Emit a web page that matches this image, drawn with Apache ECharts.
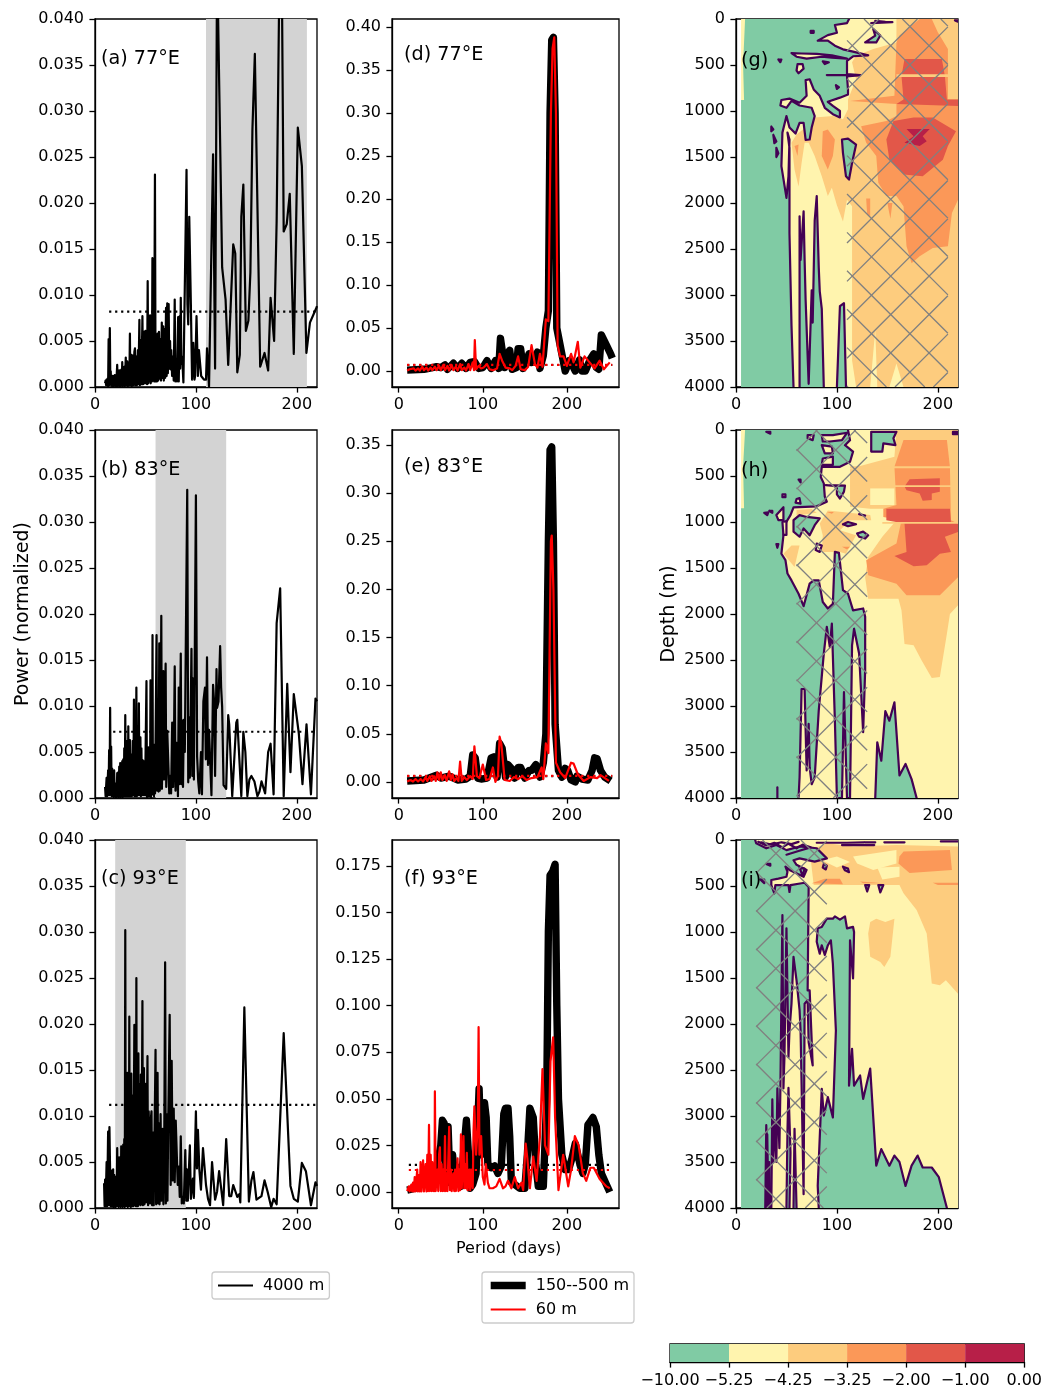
<!DOCTYPE html>
<html><head><meta charset="utf-8">
<script src="https://cdn.jsdelivr.net/npm/echarts@6/dist/echarts.min.js"></script>
<style>html,body{margin:0;padding:0;background:#fff}#c{width:1045px;height:1390px}</style></head>
<body><div id="c"></div>
<script>
// ---------- values ----------
const panelTitles = ['(a) 77°E','(b) 83°E','(c) 93°E','(d) 77°E','(e) 83°E','(f) 93°E','(g)','(h)','(i)'];
const powerTicks = [0,.005,.01,.015,.02,.025,.03,.035,.04];
const periodTicks = [0,100,200];
const depthTicks = [0,500,1000,1500,2000,2500,3000,3500,4000];
const dTicks = [0,.05,.1,.15,.2,.25,.3,.35,.4];
const eTicks = [0,.05,.1,.15,.2,.25,.3,.35];
const fTicks = [0,.025,.05,.075,.1,.125,.15,.175];
const colorbarLabels = ['−10.00','−5.25','−4.25','−3.25','−2.00','−1.00','0.00'];
const shadedA = [110,210], shadedB = [60,130], shadedC = [20,90];
const thresholdA = [[14,.0082],[220,.0082]], thresholdB = [[18,.0072],[220,.0072]], thresholdC = [[14,.0112],[220,.0112]];
const thresholdDdeep = [[10,.007],[254,.007]], thresholdDsurf = [[10,.0072],[254,.0072]];
const thresholdEdeep = [[10,.006],[254,.006]], thresholdEsurf = [[10,.0062],[254,.0062]];
const thresholdFdeep = [[12,.0146],[251,.0146]], thresholdFsurf = [[12,.0118],[251,.0118]];

const power4000A = [[10,.0004],[10.5,.0007],[11,.0002],[11.5,.0008],[12,.0002],[12.5,.0009],[13,.0001],[13.5,.0052],[14,.0002],[14.7,.0064],[15.2,.0005],[15.6,.0017],[16,.0002],[16.6,.001],[17,.0001],[17.6,.0012],[18,.0001],[18.6,.0009],[19,.0002],[19.6,.0013],[20,.0001],[20.6,.0011],[21,.0001],[22,.0024],[22.5,.0001],[23,.0014],[23.5,.0002],[24,.0018],[24.5,.0001],[25,.0016],[25.5,.0001],[26,.0019],[26.5,.0002],[27,.0027],[27.5,.0001],[28,.002],[28.5,.0002],[29,.0022],[29.5,.0001],[30.5,.0032],[31,.0002],[32,.0028],[32.5,.0001],[33.5,.0026],[34,.0002],[34.6,.0058],[35,.0002],[36,.0035],[36.5,.0001],[37.4,.0034],[38,.0002],[39,.0038],[39.6,.0042],[40,.0002],[41,.0033],[41.5,.0002],[42.5,.004],[43,.0003],[44,.0073],[44.5,.0002],[45.5,.0051],[46,.0003],[47,.0077],[47.6,.0003],[48.5,.006],[49,.0004],[50,.0061],[50.6,.0004],[51.2,.003],[51.6,.0003],[52.2,.0115],[52.8,.0004],[53.4,.005],[54,.0006],[54.6,.0078],[55.2,.0004],[56,.006],[56.4,.0006],[56.9,.014],[57.4,.001],[58,.0137],[58.6,.0006],[59.4,.0231],[60,.0006],[60.8,.0041],[61.4,.0006],[62,.0058],[62.6,.0007],[63.4,.006],[64,.0009],[64.8,.0052],[65.4,.0007],[66.2,.007],[66.8,.001],[67.6,.0066],[68.2,.0007],[69,.0063],[69.6,.001],[70.4,.0086],[71,.0012],[71.6,.0091],[72.2,.0015],[73,.009],[73.6,.002],[74.4,.005],[75,.0019],[75.6,.004],[76.4,.0012],[77.2,.0033],[78,.0007],[79,.0095],[79.6,.0006],[80.6,.0028],[81.2,.0006],[82.4,.0076],[83,.0006],[84,.0077],[84.4,.002],[85,.0097],[85.6,.0025],[86.4,.0033],[87.6,.0005],[90.7,.0236],[91.6,.009],[92.4,.0068],[93.4,.0185],[94.2,.0185],[95,.009],[96.2,.0008],[97.4,.0048],[98.6,.0008],[99.2,.0012],[100.6,.0077],[102,.0012],[103,.004],[104,.004],[105.2,.0012],[106.6,.0012],[108,.0008],[110,.0008],[111,.0042],[113,0],[117,.0253],[119,.002],[121,.047],[122,.047],[126,.013],[129.4,.0095],[132,.0024],[137,.0155],[139,.0145],[141,.0016],[143.5,.0035],[145,.0185],[147,.022],[149.5,.0061],[152,.0072],[154,.0125],[156,.028],[158.4,.0362],[163.7,.0022],[168,.0037],[171.6,.0018],[174,.0097],[177.5,.005],[180,.018],[183,.047],[185,.047],[187,.0169],[190,.0177],[193,.021],[197,.0036],[201,.0282],[205,.024],[209.5,.0037],[213,.007],[219,.0085],[220,.0088]];

const power4000B = [[10,.0012],[10.5,.0002],[11.5,.0022],[12,.0002],[13,.003],[13.4,.0003],[14,.0052],[14.4,.0003],[15,.0098],[15.5,.0005],[16,.0056],[16.5,.0002],[17,.0032],[17.5,.0003],[18,.0024],[18.5,.0001],[19,.003],[19.5,.0002],[20,.0016],[20.5,.0001],[21,.0015],[21.5,.0001],[22,.0027],[22.5,.0002],[23,.0028],[23.5,.0001],[24,.0034],[24.5,.0002],[25,.0038],[25.5,.0001],[26,.0037],[26.5,.0002],[27,.004],[27.5,.0001],[28,.0042],[28.5,.0003],[29,.0054],[29.5,.0002],[30,.009],[30.5,.0002],[31,.0055],[31.5,.0002],[32,.0062],[32.5,.0002],[33,.0078],[33.5,.0002],[34.6,.0063],[35,.0002],[36,.0047],[36.5,.0002],[37.4,.0062],[38,.0003],[38.6,.0107],[39.2,.0002],[40,.0085],[40.4,.0002],[41,.012],[41.5,.0002],[42.4,.0074],[43,.0003],[43.5,.0103],[44,.0003],[45,.0066],[45.5,.0002],[46,.0054],[46.6,.0003],[47.4,.0041],[48,.0003],[49,.004],[49.6,.0003],[51,.0127],[51.5,.0001],[52.2,.0045],[52.6,.0002],[53,.0055],[53.4,.0002],[54,.0038],[54.5,.0002],[55,.0128],[55.5,.0001],[56.2,.0055],[56.6,.0004],[57,.0177],[57.4,.0004],[58,.0055],[58.5,.0002],[59,.0058],[59.5,.0005],[61,.0177],[61.6,.0008],[62.4,.0105],[63,.0007],[63.7,.0168],[64.2,.0008],[65,.0055],[65.7,.0198],[66.3,.001],[67,.0062],[67.7,.0138],[68.4,.002],[69,.009],[70,.0146],[70.6,.0012],[71.6,.0073],[72.6,.0073],[73.6,.0005],[74.6,.0024],[75.4,.0005],[76.5,.0082],[77.4,.0012],[78,.0038],[79,.0143],[79.8,.0008],[81,.006],[81.6,.0055],[82.2,.0002],[83,.012],[83.6,.0015],[85,.0157],[85.6,.0015],[86.4,.0084],[87.2,.0012],[88,.0085],[89,.005],[90,.005],[91.4,.0335],[92.4,.0017],[93,.0088],[94,.0022],[95.6,.0162],[96.4,.0024],[97,.013],[98,.002],[100,.0329],[101.2,.0045],[102.3,.0018],[103.4,.0005],[105,.005],[106,.0004],[107.4,.0105],[109,.012],[109.8,.0042],[111,.0153],[112,.0036],[113,.0074],[114,.0072],[115.4,.0003],[117,.0123],[118,.0105],[119,.0024],[120.4,.014],[121,.0098],[122.4,.0105],[124,.0165],[125,.012],[126,.0099],[127.4,.0014],[128.4,.0013],[130,.001],[132,.009],[133,.008],[136,.0002],[140,.0082],[141,.0085],[145,.0002],[147,.0072],[149,.005],[151,.0002],[153,.002],[155,.0024],[158,.0018],[161,.0002],[163,.0007],[165,.0018],[168.6,.0005],[171.6,.005],[174,.0059],[177,.0004],[180,.019],[183.5,.0228],[187,.0002],[190.5,.0124],[193.7,.0028],[197,.0113],[202,.007],[205.6,.0015],[209.6,.008],[214,.0004],[218.5,.0108],[220,.0105]];

const power4000C = [[9,.0027],[9.5,.0002],[10,.0031],[10.5,.0002],[11.5,.005],[12,.0002],[13,.0083],[13.5,.0003],[14.3,.0088],[15,.009],[15.5,.0002],[16,.0041],[16.5,.0002],[17,.003],[17.4,.0002],[18,.0042],[18.5,.0001],[19,.0036],[19.5,.0002],[20,.0034],[20.5,.0001],[21,.0033],[21.5,.0002],[22,.0065],[22.5,.0002],[23,.0052],[23.5,.0001],[24,.0055],[24.5,.0002],[25,.0048],[25.5,.0001],[26,.0067],[26.5,.0002],[27,.006],[27.5,.0001],[28,.0069],[28.5,.0002],[29,.0075],[29.5,.0001],[30,.0302],[30.5,.0003],[31,.0125],[31.5,.0002],[32,.0147],[32.5,.0001],[33,.0135],[33.5,.0002],[34,.0208],[34.5,.0002],[35,.0128],[35.5,.0001],[36,.0146],[36.5,.0002],[37.4,.0122],[38,.0002],[39,.0199],[39.5,.0003],[40,.0155],[40.5,.0002],[41,.025],[41.5,.0002],[42,.014],[42.5,.0002],[43,.0168],[43.5,.0004],[44.4,.0135],[45,.0003],[45.5,.0145],[46,.0004],[47,.0225],[47.5,.0003],[48.5,.0152],[49,.0004],[50,.0135],[50.5,.0006],[52,.0165],[52.6,.0003],[53.2,.0105],[54,.0107],[54.6,.0005],[55.2,.0095],[56,.0105],[56.6,.0003],[57.6,.0082],[58.2,.0003],[60,.0172],[60.6,.0004],[61.2,.0105],[62,.0147],[62.6,.0005],[63.4,.0092],[64,.0004],[65,.0102],[65.8,.0008],[66.4,.0062],[67,.0086],[67.8,.0004],[68.6,.0062],[69.5,.0267],[70.2,.0005],[71,.0102],[71.8,.0008],[72.6,.0095],[74,.021],[75,.0025],[76,.016],[77,.003],[78,.0108],[79,.0028],[80,.0095],[81,.0095],[82,.0025],[83,.0045],[84,.0012],[85,.0078],[86,.0005],[87,.0012],[88,.0005],[89.5,.0063],[90.4,.0008],[91,.0042],[92,.0008],[93,.004],[94,.0068],[95,.001],[96,.0022],[97,.0032],[98,.0011],[100,.0105],[101,.0043],[102,.0085],[103.4,.0042],[105,.002],[107,.0065],[108.6,.0065],[110,.0025],[112,.001],[114,.0003],[116,.005],[119,.0009],[121,.0018],[123,.004],[127,.0003],[130,.0075],[133,.0013],[135,.0013],[137,.0025],[141,.0012],[143,.0015],[144,.0006],[148,.0218],[152.5,.0007],[155,.003],[157,.0039],[160,.0009],[165,.0013],[168,.003],[171,.0018],[174.6,.0001],[177,.001],[180,.0004],[187,.019],[193.7,.0024],[197,.001],[201,.0007],[205,.0049],[209,.004],[214,.0003],[218.5,.0028],[220,.0024]];

const powerDeepD = [[10,.001],[30,.002],[40,.004],[45,.005],[50,.004],[55,.007],[58,.002],[65,.009],[70,.003],[75,.009],[80,.003],[85,.01],[90,.011],[95,.003],[100,.004],[105,.012],[110,.003],[115,.012],[119,.003],[121,.038],[123,.038],[126,.004],[130,.021],[132,.024],[135,.002],[140,.004],[142,.026],[145,.026],[148,.003],[152,.012],[155,.02],[158,.01],[162,.015],[165,.022],[168,.003],[172,.018],[175,.05],[178,.07],[180,.3],[182,.385],[184,.388],[186,.3],[188,.05],[192,.03],[195,.015],[198,0],[200,.002],[203,.012],[206,.008],[210,0],[215,.013],[218,0],[222,0],[228,.014],[232,.02],[235,.004],[238,.002],[241,.042],[243,.042],[247,.03],[252,.02],[254,.015]];
const powerSurfD = [[10,.0005],[13,.002],[15,.0003],[18,.003],[20,.0005],[23,.003],[25,.0005],[28,.005],[30,.001],[33,.004],[35,.0005],[38,.004],[40,.001],[43,.005],[45,.001],[48,.006],[50,.001],[53,.007],[55,.001],[58,.006],[60,.0005],[63,.007],[65,.001],[68,.005],[70,.0005],[73,.008],[75,.001],[78,.004],[80,.0005],[83,.008],[85,.001],[88,.01],[89.5,.001],[90.5,.036],[92,.002],[95,.006],[98,.003],[101,.004],[105,.008],[108,.002],[112,.001],[117,.003],[120,.02],[123,.012],[127,.004],[132,.003],[135,.001],[139,.006],[142,.017],[145,.002],[150,.001],[154,.005],[158,.03],[162,.008],[165,.004],[168,.02],[171,.005],[175,.06],[178,.058],[181,.3],[183,.375],[185,.388],[187,.3],[189,.03],[192,.017],[196,.017],[200,.006],[205,.02],[208,.01],[213,.034],[216,.004],[221,.017],[227,.01],[233,.003],[239,.012],[244,.002],[251,.01]];

const powerDeepE = [[10,.001],[30,.002],[45,.007],[50,.004],[60,.006],[70,.002],[80,.003],[85,.006],[88,.028],[91,.025],[94,.004],[98,.003],[105,.004],[110,.025],[113,.026],[117,.005],[120,.04],[123,.035],[127,.005],[130,.018],[134,.014],[138,.004],[142,.015],[145,.015],[150,.004],[155,.012],[158,.012],[163,.018],[165,.018],[168,.005],[172,.02],[175,.05],[178,.25],[180,.345],[182,.348],[184,.25],[186,.06],[190,.012],[194,.005],[198,.014],[201,.012],[205,.002],[210,0],[212,.006],[218,.003],[225,.002],[230,.012],[233,.025],[236,.024],[240,.012],[245,.005],[252,.001]];
const powerSurfE = [[10,.0005],[14,.002],[17,.0004],[20,.003],[23,.0005],[26,.003],[29,.0005],[32,.005],[34,.001],[37,.006],[39,.001],[42,.006],[44,.001],[46,.01],[48,.002],[50,.01],[52,.002],[55,.007],[57,.001],[60,.011],[62,.002],[64,.008],[66,.001],[69,.004],[71,.001],[73,.021],[75,.001],[78,.005],[81,.002],[85,.006],[88,.003],[90,.037],[93,.006],[96,.004],[98,.002],[100,.018],[104,.002],[108,.003],[112,.015],[115,0],[118,.006],[120,.047],[122,.04],[126,.002],[132,.001],[137,.005],[142,.003],[147,.006],[152,.002],[158,.004],[165,.005],[170,.015],[172,.003],[175,.04],[178,.03],[181,.25],[182,.256],[184,.2],[187,.02],[192,.01],[198,.004],[205,.02],[208,.019],[213,.008],[220,.001],[228,.005],[236,.004],[240,.007],[250,.001]];

const powerDeepF = [[10,.001],[20,.002],[30,.005],[35,.01],[40,.012],[45,.013],[48,.02],[50,.025],[52,.0385],[54,.037],[56,.01],[58.7,.035],[61,.005],[64,.02],[67,.006],[70,.012],[74,.003],[77,.02],[80.5,.0385],[83,.02],[85,.002],[88,.004],[92,.01],[95.6,.0555],[98,.02],[102,.048],[104,.04],[106,.015],[110,.013],[114,.014],[118,.01],[122,.014],[125,.042],[127,.045],[130,.045],[132,.03],[134,.005],[138,.004],[144,.002],[150,.002],[153,.02],[156,.045],[160,.04],[163,.015],[166,.003],[172,.003],[176,.05],[178,.14],[180,.17],[183,.172],[186,.176],[188,.1],[190,.05],[194,.02],[198,.012],[202,.012],[206,.018],[210,.026],[212,.026],[216,.014],[219,.01],[222,.015],[225,.036],[228,.038],[231,.04],[235,.035],[238,.02],[241,.01],[246,.005],[251,0]];
const powerSurfF = [[10,.0005],[12,.003],[13,.0003],[15,.004],[16,.0003],[17,.005],[18,.0003],[19,.008],[20,.0003],[22,.012],[22.8,.0003],[24,.009],[25,.0003],[26,.016],[27,.0003],[29,.017],[30,.0003],[32,.015],[33,.0003],[34,.02],[35,.0005],[36,.036],[37,.0005],[38,.02],[39,.0005],[40,.016],[41,.0005],[42,.012],[42.6,.0005],[43,.054],[44,.0005],[45,.01],[46,.012],[47,.0005],[48,.02],[49,.024],[50,.0005],[51,.015],[52,.0005],[53,.012],[54,.0005],[55,.03],[56,.0005],[57,.01],[58,.0005],[60,.035],[61,.001],[62,.012],[63,.0005],[65,.01],[66,.0005],[67,.012],[68,.0005],[70,.018],[71,.0005],[72,.012],[73,.001],[74,.031],[75,.002],[77,.03],[78,.002],[79,.015],[80,.002],[81,.021],[82,.001],[84,.012],[85,.001],[86,.012],[88,.002],[89,.033],[90,.046],[92,.02],[94,.035],[95,.0885],[96,.02],[98,.03],[100,.008],[102,.004],[103.6,.015],[106,.005],[108,.002],[112,.002],[116,.003],[120,.007],[124,.002],[127,.003],[130,.006],[134,.002],[138,.008],[142,.002],[146,.005],[148,.001],[151,.026],[153,.018],[156,.002],[160,.019],[164,.006],[168,.03],[171,.066],[174,.025],[178,.02],[180.5,.07],[183.7,.083],[186,.04],[190,.001],[195.6,.02],[197.6,.021],[201.6,.003],[205,.012],[209.5,.03],[214,.025],[219,.01],[223,.006],[228,.013],[232,.013],[239,.007],[247,.003],[251,.002]];

// filled levels, panel (g)
const gBase = [[5,0],[220,0],[220,4000],[5,4000]];
const gLight = [[159,0],[220,0],[220,4000],[217,4000],[166,4000],[159,3745],[152,4000],[140,4000],[138,3380],[133,4000],[119,4000],[115,3710],[115,2035],[110,1965],[106,2200],[100,2025],[95,1835],[91,1925],[85,1710],[78,1490],[72,1345],[68,1345],[65,1565],[62,1820],[58,1635],[55,1345],[60,1255],[73,1145],[78,1070],[96,1055],[106,1090],[111,980],[111,875],[119,655],[115,470],[119,400],[136,325],[159,255]];
const gOrange = [[182,0],[194,0],[200,145],[210,325],[210,875],[220,875],[220,1965],[214,2110],[210,2470],[195,2490],[182,2580],[174,2655],[169,2470],[166,2035],[159,1925],[149,1925],[141,1780],[139,1490],[129,1345],[124,1165],[149,1110],[159,1055],[159,925],[113,890],[157,835],[159,255],[162,180]];
const gOrangeA = [[86,1220],[91,1200],[98,1310],[96,1490],[91,1635],[85,1490]];
const gOrangeB = [[129,1950],[133,1950],[133,2145],[130,2125]];
const gOrangeC = [[150,2000],[155,2000],[153,2170]];
const gOrangeD = [[58,1380],[62,1365],[61,1490]];
const gRed1 = [[167,435],[204,435],[207,620],[209,875],[220,875],[220,945],[159,925],[166,875],[164,620]];
const gRed2 = [[156,1110],[176,1070],[195,1070],[218,1220],[210,1380],[205,1530],[185,1710],[166,1690],[152,1530],[149,1310]];
const gCrimson = [[169,1195],[192,1195],[185,1275],[189,1330],[182,1380],[167,1345],[176,1275]];
const gStreak = [[159,600],[220,600],[220,630],[159,630]];
// contours, panel (g)
const gMain = [[112,0],[110,45],[98,65],[100,150],[91,175],[81,235],[91,235],[98,290],[106,330],[116,355],[131,395],[116,405],[110,455],[110,600],[123,610],[110,625],[111,765],[111,820],[103,855],[91,900],[96,945],[103,1000],[103,1070],[96,1035],[88,965],[83,835],[77,765],[73,655],[69,665],[70,835],[63,910],[53,865],[45,880],[44,940],[50,965],[55,890],[63,940],[75,965],[78,1055],[75,1180],[73,1310],[69,1315],[67,1130],[63,1130],[59,1245],[53,1180],[50,1055],[46,1235],[45,1600],[50,1945],[52,1710],[53,1310],[51,1235],[53,1400],[53,2330],[55,3330],[57,4000]];
const gMainClose = [[5,4000],[5,880],[8,880],[7,500],[9,0]];
const gFinger1 = [[63,4000],[63,2145],[64,2620],[67,2090],[68,2620],[69,3055],[72,3965],[75,2950],[76,3300],[78,2190],[80,1925],[82,2700],[83,2960],[85,3150],[87,4000]];
const gFinger2 = [[100,4000],[103,3120],[107,3090],[109,4000]];
const gIsland1 = [[105,1310],[111,1300],[119,1365],[115,1565],[112,1745],[109,1710],[106,1455],[105,1310]];
const gIsland2 = [[128,255],[138,180],[136,110],[143,180],[139,255],[128,255]];
const gPocket1 = [[61,490],[66,490],[67,540],[62,590],[60,560],[61,490]];
const gPocket2 = [[55,370],[60,410],[70,430],[85,410],[95,420],[110,430],[95,395],[80,380],[65,375],[55,370]];
const gTick1 = [[90,610],[123,610]];
const gTick2 = [[134,45],[155,35],[148,30],[138,20],[140,40],[134,45]];
const gDot1 = [[74,130],[77,130],[77,150],[74,150],[74,130]];
const gDot2 = [[35,1170],[37,1200],[35,1220],[35,1170]];
const gDot3 = [[37,1260],[40,1330],[38,1350],[37,1260]];
const gDot4 = [[40,1400],[42,1460],[40,1500],[40,1400]];
const gDot5 = [[99,720],[102,740],[100,760],[99,720]];
const gDot6 = [[217,15],[220,15],[220,30],[217,15]];
const gDot7 = [[42,440],[45,440],[44,470],[42,440]];
const gDot8 = [[86,460],[92,470],[88,490],[86,460]];
const gHatchBand = [110,210];

// filled levels, panel (h)
const hBase = [[5,0],[220,0],[220,4000],[5,4000]];
const hLight1 = [[159,0],[220,0],[220,1905],[212,2000],[209,2215],[202,2685],[194,2695],[184,2505],[176,2340],[167,2325],[164,1960],[161,1835],[131,1835],[128,1600],[131,1380],[145,1160],[159,980],[157,855],[133,855],[113,835],[113,420],[157,290]];
const hYellowPocket = [[133,635],[157,635],[157,815],[133,815]];
const hLight2 = [[83,1015],[91,875],[133,925],[134,980],[113,980],[103,1090],[119,1145],[109,1345],[103,1325],[85,1325],[86,1145]];
const hLight3 = [[47,1345],[55,1255],[63,1255],[58,1490]];
const hLight4 = [[60,870],[75,860],[80,900],[60,930]];
const hOrange = [[166,110],[209,110],[212,400],[213,980],[220,1015],[220,1600],[202,1795],[169,1795],[159,1670],[131,1580],[129,1415],[159,1235],[164,980],[146,945],[146,855],[159,815],[157,400]];
const hOrangeSmall1 = [[90,890],[97,890],[95,910]];
const hOrangeSmall2 = [[105,1270],[113,1270],[110,1300]];
const hRed1 = [[172,535],[202,525],[202,670],[194,690],[194,760],[185,770],[182,690],[169,655],[167,615]];
const hRed2 = [[149,855],[212,855],[213,1000],[220,1015],[220,1110],[207,1160],[213,1325],[202,1345],[189,1470],[176,1480],[157,1370],[169,1325],[167,1015],[149,980]];
const hStreak1 = [[113,395],[220,395],[220,415],[113,415]];
const hStreak2 = [[113,600],[220,600],[220,620],[113,620]];
const hStreak3 = [[145,1000],[220,1000],[220,1020],[145,1020]];
// contours, panel (h)
const hMain = [[111,0],[113,110],[108,165],[116,235],[113,345],[103,400],[85,400],[84,510],[87,580],[88,725],[90,780],[80,830],[57,840],[54,925],[49,1015],[47,1145],[45,1345],[49,1415],[51,1560],[55,1635],[62,1780],[67,1915],[73,1670],[77,1635],[82,1635],[86,1870],[91,1940],[96,1890],[98,1325],[102,1335],[106,1740],[111,1780],[116,1960],[126,1940],[128,2030],[128,2610],[126,3285],[122,2430],[117,2160],[115,2340],[113,4000],[110,4000],[107,2850],[105,4000],[100,4000],[98,3160],[95,2105],[93,2360],[90,2140],[87,2430],[82,3050],[78,3775],[75,3850],[73,3665],[72,3195],[70,3700],[68,2815],[65,2815],[63,3775],[62,4000]];
const hMainClose = [[5,4000],[5,850],[8,850],[7,400],[9,0]];
const hPocket1 = [[85,55],[96,55],[110,30],[105,110],[93,125],[86,125],[85,55]];
const hPocket2 = [[85,165],[95,180],[96,255],[88,255],[85,165]];
const hPocket3 = [[86,310],[96,290],[96,380],[85,380],[86,310]];
const hIslandTop = [[134,20],[159,20],[156,90],[158,165],[146,145],[145,235],[134,235],[134,20]];
const hIslandLow = [[138,4000],[140,3395],[144,3595],[148,3055],[152,3160],[157,2960],[162,3755],[168,3630],[174,3795],[179,4000]];
const hIslandMid = [[57,980],[63,925],[70,945],[83,960],[78,1035],[73,1145],[67,1070],[63,1160],[57,1105],[57,980]];
const hLoop1 = [[71,55],[77,55],[76,110],[71,90],[71,55]];
const hLoop2 = [[60,750],[63,740],[64,800],[59,790],[60,750]];
const hLoop3 = [[46,700],[49,700],[49,730],[46,730],[46,700]];
const hLoop4 = [[40,925],[47,840],[47,980],[42,980],[40,925]];
const hLoop5 = [[46,1000],[50,990],[50,1140],[47,1140],[46,1000]];
const hLoop6 = [[80,1235],[85,1255],[83,1325],[79,1305],[80,1235]];
const hLoop7 = [[89,600],[108,605],[107,670],[103,745],[100,700],[100,610],[89,600]];
const hLoop8 = [[106,1025],[111,1000],[119,1025],[111,1045],[106,1025]];
const hLoop9 = [[120,1125],[126,1105],[131,1145],[128,1180],[122,1160],[120,1125]];
const hTick1 = [[122,915],[128,930]];
const hTick2 = [[41,4000],[41,3885]];
const hDot1 = [[215,20],[220,20],[220,45],[215,45],[215,20]];
const hDot2 = [[30,20],[34,20],[34,40],[30,20]];
const hDot3 = [[62,540],[64,540],[64,570],[62,540]];
const hDot4 = [[33,880],[36,880],[36,900],[33,880]];
const hDot5 = [[28,900],[32,895],[31,925],[28,900]];
const hDot6 = [[40,1240],[42,1240],[41,1280],[40,1240]];
const hHatchBand = [60,130];

// filled levels, panel (i)
const iBase = [[5,0],[220,0],[220,4000],[5,4000]];
const iLight1 = [[73,110],[90,35],[116,70],[159,55],[220,70],[220,1670],[208,1525],[202,1580],[194,1560],[189,1015],[179,760],[166,580],[162,490],[77,490]];
const iLight2 = [[133,890],[139,855],[148,890],[157,855],[153,1270],[147,1380],[143,1325],[133,1270],[131,1015]];
const iYellow1 = [[116,180],[159,110],[159,255],[136,325],[120,255]];
const iYellow2 = [[140,300],[162,290],[162,400],[145,430]];
const iYellow3 = [[85,220],[100,180],[113,240],[100,300]];
const iOrange1 = [[166,125],[212,110],[214,325],[172,360],[161,255],[162,180]];
const iOrange2 = [[75,470],[88,420],[103,420],[106,480]];
const iOrange3 = [[123,450],[146,470],[126,470]];
const iOrange4 = [[195,465],[220,465],[220,490],[200,490]];
// contours, panel (i)
const iLeft = [[19,0],[20,35],[30,90],[40,55],[50,110],[63,70],[80,90],[90,200],[78,235],[63,200],[57,220],[60,270],[70,325],[67,400],[53,325],[49,290],[51,345],[50,400],[42,420],[35,435],[35,490],[38,580],[39,490],[52,490],[53,565],[54,490],[65,470],[68,465],[72,510],[71,1635],[73,1635],[76,2450],[72,2200],[71,1740],[68,1780],[67,3850],[64,2070],[63,1850],[60,1525],[57,1270],[55,1780],[53,2070],[52,2360],[50,960],[48,2360],[47,2700],[46,815],[44,2700],[43,3350],[41,2700],[40,3500],[38,3045],[37,3500],[36,2820],[35,4000],[32,4000],[30,3100],[29,4000]];
const iLeftClose = [[5,4000],[5,0]];
const iGreenBig = [[82,4000],[81,3760],[85,2705],[87,2995],[91,2795],[96,3015],[99,2070],[96,1345],[94,1090],[91,1145],[88,1250],[85,1145],[83,1235],[80,1105],[81,960],[85,945],[90,855],[96,855],[98,830],[103,865],[108,830],[110,960],[116,945],[117,1000],[116,1505],[113,1090],[112,2670],[115,2270],[117,2670],[123,2560],[126,2815],[133,2485],[139,3540],[144,3360],[152,3540],[157,3430],[162,3500],[168,3760],[174,3540],[180,3430],[185,3560],[194,3560],[201,3665],[209,4000]];
const iFinger1 = [[50,4000],[51,3170],[52,2695],[54,3400],[53,4000]];
const iFinger2 = [[57,4000],[58,3140],[60,4000]];
const iTop1 = [[80,30],[110,30],[127,25]];
const iTop2 = [[105,55],[137,55]];
const iTop3 = [[147,25],[167,25]];
const iTop4 = [[203,15],[220,15]];
const iTop5 = [[128,25],[138,25]];
const iTop6 = [[25,25],[35,50],[45,25],[55,45],[62,20]];
const iTop7 = [[22,20],[30,60],[38,30],[46,80],[52,40],[60,90],[66,50],[74,80],[62,120],[50,160]];
const iTangle = [[30,4000],[31,3200],[32,4000],[33,3500],[34,4000],[30,3700],[33,3800]];
const iBlob1 = [[87,260],[90,280],[89,320],[86,300],[87,260]];
const iBlob2 = [[106,290],[111,310],[112,350],[108,330],[106,290]];
const iBlob3 = [[128,490],[132,490],[130,560],[128,490]];
const iBlob4 = [[141,490],[146,490],[143,570],[141,490]];
const iBlob5 = [[63,300],[68,310],[66,390],[63,300]];
const iBlob6 = [[30,260],[34,260],[34,280],[30,260]];
const iBlob7 = [[24,430],[28,430],[28,470],[24,430]];
const iHatchBand = [20,90];

// ---------- styling ----------
const FONT = 'DejaVu Sans';
const TICK = 16;
const levelColors = [null,'#FFF4AE','#FDCC7E','#FB9858','#E25749','#B71F48'];
const GREEN = '#80CBA4';
const CONTOUR = '#440154';
const HATCH = '#808080';
const colW = [[95,222],[392,227],[736,222]];
const rowT = [19,430,840];
const rowH = 368;
const hatchT = 38.4;

const grids=[],xAxes=[],yAxes=[],series=[],graphics=[];
function addPanel(col,row,xmin,xmax,ymin,ymax,yticks,yfmt,inverse,yName){
  grids.push({left:colW[col][0],top:rowT[row],width:colW[col][1],height:rowH,show:true,borderColor:'#000',borderWidth:1.3,backgroundColor:'transparent'});
  const ax=grids.length-1;
  const common={axisLine:{show:true,onZero:false,lineStyle:{color:'#000',width:1.3}},axisTick:{show:true,length:5.6,lineStyle:{color:'#000',width:1.3}},splitLine:{show:false}};
  xAxes.push(Object.assign({type:'value',gridIndex:ax,min:xmin,max:xmax},common,{axisTick:Object.assign({},common.axisTick,{customValues:periodTicks}),axisLabel:{customValues:periodTicks,color:'#000',fontFamily:FONT,fontSize:TICK,margin:10,formatter:v=>String(v)}}));
  yAxes.push(Object.assign({type:'value',gridIndex:ax,min:ymin,max:ymax,inverse:!!inverse},common,{axisTick:Object.assign({},common.axisTick,{customValues:yticks}),axisLabel:{customValues:yticks,color:'#000',fontFamily:FONT,fontSize:TICK,margin:11,padding:[5,0,0,0],formatter:yfmt}},
    yName?{name:yName.text,nameLocation:'middle',nameGap:yName.gap,nameTextStyle:{color:'#000',fontFamily:FONT,fontSize:19}}:{}));
  return ax;
}
function line(ax,name,data,color,width,dotted){
  return {type:'line',name:name,xAxisIndex:ax,yAxisIndex:ax,data:data,symbol:'none',clip:true,silent:true,animation:false,
    lineStyle:{color:color,width:width,type:dotted?[2.2,3.8]:'solid',cap:'butt',join:'round'},itemStyle:{color:color}};
}
function leftPanel(row,data,thr,band){
  const ax=addPanel(0,row,0,220,0,.04,powerTicks,v=>v.toFixed(3),false,row===1?{text:'Power (normalized)',gap:62}:null);
  const s=line(ax,'4000 m',data,'#000',2.2);
  s.markArea={silent:true,itemStyle:{color:'#d3d3d3'},data:[[{xAxis:band[0]},{xAxis:band[1]}]]};
  series.push(s);
  series.push(line(ax,undefined,thr,'#000',2.2,true));
}
function midPanel(row,ymin,ymax,ticks,fmt,deep,surf,thrD,thrS){
  const ax=addPanel(1,row,-8,262,ymin,ymax,ticks,fmt);
  series.push(line(ax,undefined,thrD,'#000',2.2,true));
  series.push(line(ax,'150--500 m',deep,'#000',7.4));
  series.push(line(ax,undefined,thrS,'#f00',2.2,true));
  series.push(line(ax,'60 m',surf,'#f00',2.2));
}
function fillSeries(ax,layers){
  return {type:'custom',coordinateSystem:'cartesian2d',xAxisIndex:ax,yAxisIndex:ax,clip:true,silent:true,animation:false,
    data:layers.map((_,i)=>[i]),
    renderItem:(p,api)=>{const l=layers[api.value(0)];
      return {type:'polygon',shape:{points:l[1].map(q=>api.coord(q))},style:{fill:levelColors[l[0]]}};}};
}
// contour entries: [fill colour, line values, extra closing vertices]
function contourSeries(ax,entries){
  return {type:'custom',coordinateSystem:'cartesian2d',xAxisIndex:ax,yAxisIndex:ax,clip:true,silent:true,animation:false,
    data:entries.map((_,i)=>[i]),
    renderItem:(p,api)=>{const e=entries[api.value(0)];const kids=[];
      const pts=e[1].map(q=>api.coord(q));
      if(e[0]){const c=(e[2]||[]).map(q=>api.coord(q));
        kids.push({type:'polygon',shape:{points:pts.concat(c)},style:{fill:e[0]}});}
      kids.push({type:'polyline',shape:{points:pts},style:{fill:null,stroke:CONTOUR,lineWidth:2.2,lineJoin:'round',lineCap:'round'}});
      return {type:'group',children:kids};}};
}
function hatchSeries(ax,band,anchor){
  return {type:'custom',coordinateSystem:'cartesian2d',xAxisIndex:ax,yAxisIndex:ax,clip:true,silent:true,animation:false,
    data:[[band[0],band[1]]],
    renderItem:(p,api)=>{
      const a=api.coord([api.value(0),0]),b=api.coord([api.value(1),4000]);
      const x0=a[0],x1=b[0],y0=a[1],y1=b[1],kids=[];
      const seg=(sign)=>{ // y = sign*x + c
        const c0=anchor[1]-sign*anchor[0];
        for(let k=-40;k<=40;k++){const c=c0+k*hatchT;let xa,xb;
          if(sign>0){xa=Math.max(x0,y0-c);xb=Math.min(x1,y1-c);}else{xa=Math.max(x0,c-y1);xb=Math.min(x1,c-y0);}
          if(xb>xa)kids.push({type:'line',shape:{x1:xa,y1:sign*xa+c,x2:xb,y2:sign*xb+c},style:{stroke:HATCH,lineWidth:1.3}});}
      };
      seg(1);seg(-1);
      return {type:'group',children:kids};}};
}
const Y=GREEN, YEL=levelColors[1];
function rightPanel(row,layers,contours,band,anchor,yName){
  const ax=addPanel(2,row,0,220,0,4000,depthTicks,v=>String(v),true,yName);
  series.push(fillSeries(ax,layers));
  series.push(contourSeries(ax,contours));
  series.push(hatchSeries(ax,band,anchor));
}

leftPanel(0,power4000A,thresholdA,shadedA);
leftPanel(1,power4000B,thresholdB,shadedB);
leftPanel(2,power4000C,thresholdC,shadedC);
const f2=v=>v.toFixed(2), f3=v=>v.toFixed(3);
midPanel(0,-.0186,.4093,dTicks,f2,powerDeepD,powerSurfD,thresholdDdeep,thresholdDsurf);
midPanel(1,-.0167,.3656,eTicks,f2,powerDeepE,powerSurfE,thresholdEdeep,thresholdEsurf);
midPanel(2,-.0086,.189,fTicks,f3,powerDeepF,powerSurfF,thresholdFdeep,thresholdFsurf);

rightPanel(0,[[1,gBase],[2,gLight],[3,gOrange],[3,gOrangeA],[3,gOrangeB],[3,gOrangeC],[3,gOrangeD],[4,gRed1],[4,gRed2],[5,gCrimson],[2,gStreak]],
 [[Y,gMain,gMainClose],[Y,gFinger1],[Y,gFinger2],[Y,gIsland1],[Y,gIsland2],[YEL,gPocket1],[YEL,gPocket2],[null,gTick1],[YEL,gTick2],[Y,gDot1],[Y,gDot2],[Y,gDot3],[Y,gDot4],[Y,gDot5],[Y,gDot6],[Y,gDot7],[Y,gDot8]],
 gHatchBand,[948.3,103.3]);
rightPanel(1,[[1,hBase],[2,hLight1],[1,hYellowPocket],[2,hLight2],[2,hLight3],[2,hLight4],[3,hOrange],[3,hOrangeSmall1],[3,hOrangeSmall2],[4,hRed1],[4,hRed2],[2,hStreak1],[2,hStreak2],[2,hStreak3]],
 [[Y,hMain,hMainClose],[YEL,hPocket1],[YEL,hPocket2],[YEL,hPocket3],[Y,hIslandTop],[Y,hIslandLow],[Y,hIslandMid],[YEL,hLoop1],[YEL,hLoop2],[YEL,hLoop3],[YEL,hLoop4],[YEL,hLoop5],[YEL,hLoop6],[Y,hLoop7],[Y,hLoop8],[Y,hLoop9],[null,hTick1],[null,hTick2],[Y,hDot1],[Y,hDot2],[Y,hDot3],[Y,hDot4],[Y,hDot5],[Y,hDot6]],
 hHatchBand,[797.3,450],{text:'Depth (m)',gap:57});
rightPanel(2,[[1,iBase],[2,iLight1],[2,iLight2],[1,iYellow1],[1,iYellow2],[1,iYellow3],[3,iOrange1],[3,iOrange2],[3,iOrange3],[3,iOrange4]],
 [[Y,iLeft,iLeftClose],[Y,iGreenBig],[Y,iFinger1],[Y,iFinger2],[null,iTop1],[null,iTop2],[null,iTop3],[null,iTop4],[null,iTop5],[null,iTop6],[null,iTop7],[null,iTangle],[Y,iBlob1],[Y,iBlob2],[Y,iBlob3],[Y,iBlob4],[Y,iBlob5],[Y,iBlob6],[Y,iBlob7]],
 iHatchBand,[756.7,911]);

// colour bar
grids.push({left:670,top:1344,width:355,height:18,show:true,borderColor:'#000',borderWidth:1.3,backgroundColor:'transparent'});
const cbAx=grids.length-1;
const cbStops=[0,1,2,3,4,5,6];
xAxes.push({type:'value',gridIndex:cbAx,min:0,max:6,axisLine:{show:true,onZero:false,lineStyle:{color:'#000',width:1.3}},axisTick:{show:true,length:5.6,customValues:cbStops,lineStyle:{color:'#000',width:1.3}},splitLine:{show:false},
  axisLabel:{customValues:cbStops,color:'#000',fontFamily:FONT,fontSize:TICK,margin:11,hideOverlap:false,formatter:v=>colorbarLabels[Math.round(v)]}});
yAxes.push({type:'value',gridIndex:cbAx,min:0,max:1,show:false,splitLine:{show:false}});
const cbColors=[GREEN].concat(levelColors.slice(1));
series.push({type:'custom',coordinateSystem:'cartesian2d',xAxisIndex:cbAx,yAxisIndex:cbAx,silent:true,animation:false,
  data:cbColors.map((_,i)=>[i]),
  renderItem:(p,api)=>{const i=api.value(0);const a=api.coord([i,1]),b=api.coord([i+1,0]);
    return {type:'rect',shape:{x:a[0],y:a[1],width:b[0]-a[0],height:b[1]-a[1]},style:{fill:cbColors[i]}};}});

// panel titles
const titlePos=[[101,57],[101,468],[101,877],[404,53],[404,465],[404,877],[741,59],[741,469],[741,879]];
panelTitles.forEach((t,i)=>graphics.push({type:'text',left:titlePos[i][0],top:titlePos[i][1]-7,z:200,silent:true,style:{text:t,fill:'#000',font:'19.2px "DejaVu Sans"'}}));

const legendBase={orient:'vertical',selectedMode:false,itemStyle:{opacity:0},itemGap:8,itemWidth:35,itemHeight:14,backgroundColor:'#fff',borderColor:'#ccc',borderWidth:1.3,borderRadius:3,textStyle:{color:'#000',fontFamily:FONT,fontSize:16,padding:[0,0,0,5]}};
const chart=echarts.init(document.getElementById('c'),null,{renderer:'canvas'});
chart.setOption({animation:false,backgroundColor:'#fff',grid:grids,xAxis:xAxes,yAxis:yAxes,series:series,
  graphic:graphics.concat([{type:'text',left:456,top:1241,silent:true,style:{text:'Period (days)',fill:'#000',font:'16px "DejaVu Sans"'}}]),
  legend:[
   Object.assign({},legendBase,{data:['4000 m'],left:212,top:1272,padding:[5.5,5,5.5,5]}),
   Object.assign({},legendBase,{data:[{name:'150--500 m',lineStyle:{width:7.4,cap:'butt'}},{name:'60 m',lineStyle:{width:2.2,cap:'butt'}}],left:482,top:1272,padding:[5.5,5,5.5,5]})
  ]});
</script></body></html>
